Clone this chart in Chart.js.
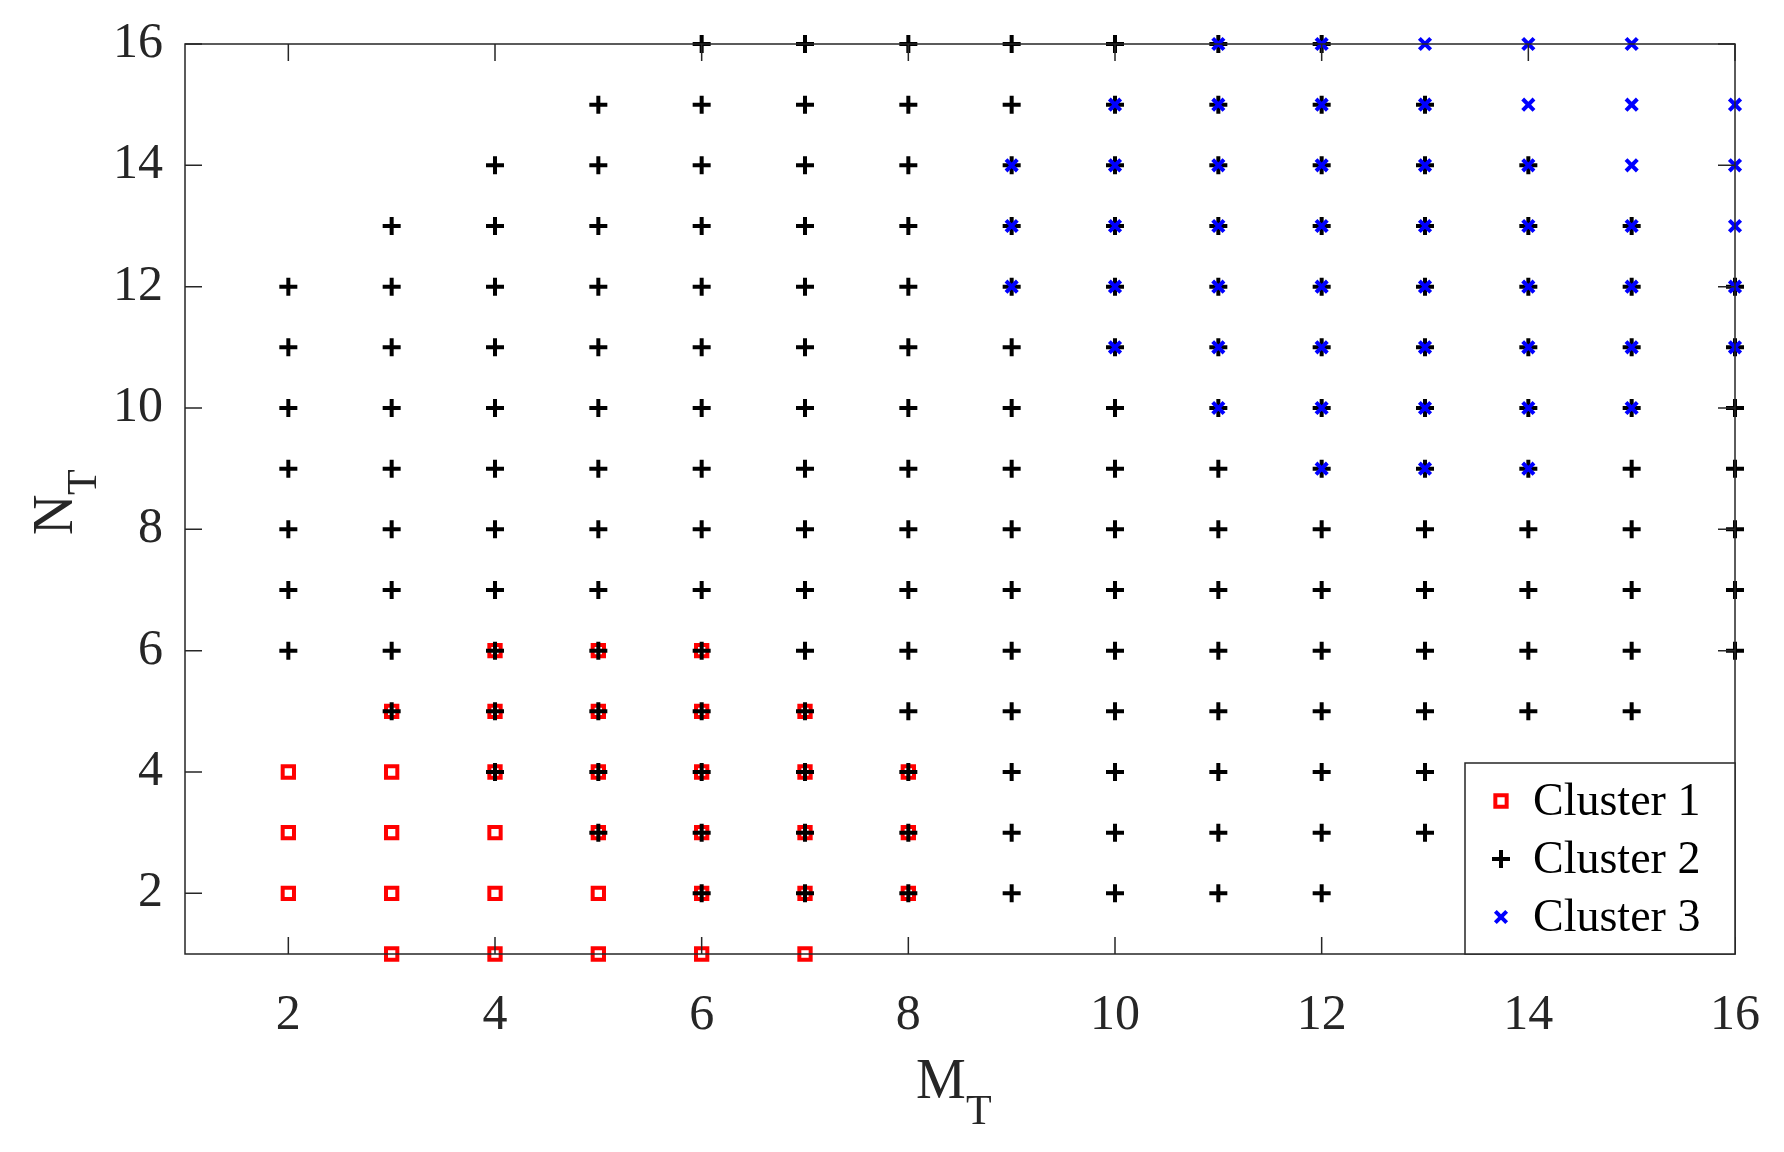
<!DOCTYPE html>
<html>
<head>
<meta charset="utf-8">
<script src="https://cdn.jsdelivr.net/npm/chart.js@4/dist/chart.umd.min.js"></script>
<style>
  html, body { margin: 0; padding: 0; background: #fff; }
  #wrap { width: 1784px; height: 1152px; }
</style>
</head>
<body>
<div id="wrap"><canvas id="chart" width="1784" height="1152"></canvas></div>
<script>
// Cluster memberships: column M_T -> list of N_T values
const cluster1Cols = { 2: [2, 3, 4], 3: [1, 2, 3, 4, 5], 4: [1, 2, 3, 4, 5, 6], 5: [1, 2, 3, 4, 5, 6],
  6: [1, 2, 3, 4, 5, 6], 7: [1, 2, 3, 4, 5], 8: [2, 3, 4] };
const cluster2Cols = { 2: [6, 7, 8, 9, 10, 11, 12], 3: [5, 6, 7, 8, 9, 10, 11, 12, 13],
  4: [4, 5, 6, 7, 8, 9, 10, 11, 12, 13, 14], 5: [3, 4, 5, 6, 7, 8, 9, 10, 11, 12, 13, 14, 15],
  6: [2, 3, 4, 5, 6, 7, 8, 9, 10, 11, 12, 13, 14, 15, 16], 7: [2, 3, 4, 5, 6, 7, 8, 9, 10, 11, 12, 13, 14, 15, 16],
  8: [2, 3, 4, 5, 6, 7, 8, 9, 10, 11, 12, 13, 14, 15, 16], 9: [2, 3, 4, 5, 6, 7, 8, 9, 10, 11, 12, 13, 14, 15, 16],
  10: [2, 3, 4, 5, 6, 7, 8, 9, 10, 11, 12, 13, 14, 15, 16], 11: [2, 3, 4, 5, 6, 7, 8, 9, 10, 11, 12, 13, 14, 15, 16],
  12: [2, 3, 4, 5, 6, 7, 8, 9, 10, 11, 12, 13, 14, 15, 16], 13: [3, 4, 5, 6, 7, 8, 9, 10, 11, 12, 13, 14, 15],
  14: [5, 6, 7, 8, 9, 10, 11, 12, 13, 14], 15: [5, 6, 7, 8, 9, 10, 11, 12, 13], 16: [6, 7, 8, 9, 10, 11, 12] };
const cluster3Cols = { 9: [12, 13, 14], 10: [11, 12, 13, 14, 15], 11: [10, 11, 12, 13, 14, 15, 16],
  12: [9, 10, 11, 12, 13, 14, 15, 16], 13: [9, 10, 11, 12, 13, 14, 15, 16], 14: [9, 10, 11, 12, 13, 14, 15, 16],
  15: [10, 11, 12, 13, 14, 15, 16], 16: [11, 12, 13, 14, 15] };
const xTicks = [2, 4, 6, 8, 10, 12, 14, 16];
const yTicks = [2, 4, 6, 8, 10, 12, 14, 16];
const legendLabels = ["Cluster 1", "Cluster 2", "Cluster 3"];

function toPoints(cols) {
  const pts = [];
  Object.keys(cols).forEach((m) => cols[m].forEach((n) => pts.push({ x: +m, y: n })));
  return pts;
}

const FONT = "'Liberation Serif', 'DejaVu Serif', serif";

// Box, inward ticks, axis titles with subscripts, legend
const decor = {
  id: "decor",
  afterDatasetsDraw(chart) {
    const { ctx, chartArea: a, scales } = chart;
    ctx.save();
    ctx.strokeStyle = "#262626";
    ctx.lineWidth = 1.5;
    ctx.strokeRect(a.left, a.top, a.right - a.left, a.bottom - a.top);
    const tl = 17;
    ctx.beginPath();
    xTicks.forEach((v) => {
      const px = scales.x.getPixelForValue(v);
      ctx.moveTo(px, a.bottom); ctx.lineTo(px, a.bottom - tl);
      ctx.moveTo(px, a.top); ctx.lineTo(px, a.top + tl);
    });
    yTicks.forEach((v) => {
      const py = scales.y.getPixelForValue(v);
      ctx.moveTo(a.left, py); ctx.lineTo(a.left + tl, py);
      ctx.moveTo(a.right, py); ctx.lineTo(a.right - tl, py);
    });
    ctx.stroke();

    // axis titles
    ctx.fillStyle = "#262626";
    ctx.textBaseline = "alphabetic";
    ctx.font = "56px " + FONT;
    ctx.textAlign = "left";
    const cx = (a.left + a.right) / 2;
    ctx.fillText("M", cx - 44, 1098);
    ctx.font = "42px " + FONT;
    ctx.fillText("T", cx + 6, 1124);
    ctx.save();
    ctx.translate(72, (a.top + a.bottom) / 2);
    ctx.rotate(-Math.PI / 2);
    ctx.font = "56px " + FONT;
    ctx.fillText("N", -36, 0);
    ctx.font = "42px " + FONT;
    ctx.fillText("T", 4, 24);
    ctx.restore();

    // legend
    const lw = 270, lh = 191;
    const lx = a.right - lw, ly = a.bottom - lh;
    ctx.fillStyle = "#fff";
    ctx.fillRect(lx, ly, lw, lh);
    ctx.strokeStyle = "#262626";
    ctx.lineWidth = 1.5;
    ctx.strokeRect(lx, ly, lw, lh);
    chart.data.datasets.forEach((ds, i) => {
      const yy = ly + 38 + i * 58;
      ctx.strokeStyle = ds.borderColor;
      ctx.fillStyle = "rgba(0,0,0,0)";
      ctx.lineWidth = ds.borderWidth;
      Chart.helpers.drawPoint(ctx, {
        pointStyle: ds.pointStyle, radius: ds.pointRadius, rotation: 0,
        borderWidth: ds.borderWidth
      }, lx + 36, yy);
      ctx.fillStyle = "#000";
      ctx.font = "46px " + FONT;
      ctx.textBaseline = "middle";
      ctx.fillText(legendLabels[i], lx + 68, yy + 2);
    });
    ctx.restore();
  }
};

function build() {
  new Chart(document.getElementById("chart").getContext("2d"), {
    type: "scatter",
    data: {
      datasets: [
        { label: legendLabels[0], data: toPoints(cluster1Cols), pointStyle: "rect", pointRadius: 8,
          borderColor: "#ff0000", backgroundColor: "rgba(0,0,0,0)", borderWidth: 4, order: 3, clip: false },
        { label: legendLabels[1], data: toPoints(cluster2Cols), pointStyle: "cross", pointRadius: 9,
          borderColor: "#000000", backgroundColor: "#000", borderWidth: 4, order: 2, clip: false },
        { label: legendLabels[2], data: toPoints(cluster3Cols), pointStyle: "crossRot", pointRadius: 8,
          borderColor: "#0000ff", backgroundColor: "#00f", borderWidth: 4, order: 1, clip: false }
      ]
    },
    options: {
      responsive: false,
      animation: false,
      events: [],
      layout: { padding: { top: 40, right: 36, left: 0, bottom: 0 } },
      plugins: { legend: { display: false }, tooltip: { enabled: false } },
      scales: {
        x: {
          type: "linear", min: 1, max: 16,
          afterBuildTicks: (s) => { s.ticks = xTicks.map((v) => ({ value: v })); },
          afterFit: (s) => { s.height = 198; },
          grid: { display: false },
          border: { display: false },
          ticks: { color: "#262626", padding: 24, font: { family: FONT, size: 50 } }
        },
        y: {
          type: "linear", min: 1, max: 16,
          afterBuildTicks: (s) => { s.ticks = yTicks.map((v) => ({ value: v })); },
          afterFit: (s) => { s.width = 185; },
          grid: { display: false },
          border: { display: false },
          ticks: { color: "#262626", padding: 14, font: { family: FONT, size: 50 } }
        }
      }
    },
    plugins: [decor]
  });
}

Promise.all([
  document.fonts.load("50px 'Liberation Serif'"),
  document.fonts.load("50px 'DejaVu Serif'")
]).catch(() => {}).then(build);
</script>
</body>
</html>
